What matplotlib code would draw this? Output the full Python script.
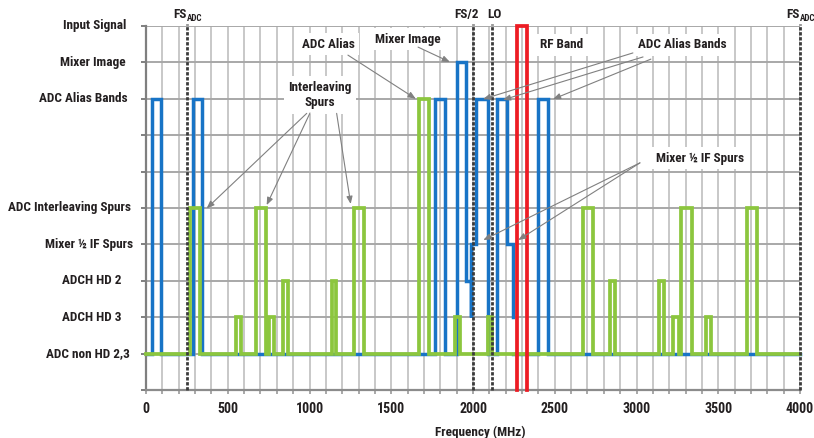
import matplotlib
matplotlib.use("Agg")
import matplotlib.pyplot as plt
import numpy as np
from matplotlib import font_manager
from matplotlib.font_manager import FontProperties
from matplotlib.transforms import blended_transform_factory

# ---------- pick a condensed bold font ----------
def find_font():
    files = [f.fname for f in font_manager.fontManager.ttflist]
    prefs = ['LiberationSansNarrow-Bold.', 'RobotoCondensed-Bold.', 'Roboto_Condensed-Bold',
             'OpenSans_Condensed-Bold', 'OpenSansCondensed-Bold', 'DejaVuSansCondensed-Bold.']
    for p in prefs:
        for f in files:
            if p.lower() in f.lower().replace(' ', ''):
                return f
    for f in files:
        fl = f.lower()
        if ('condensed' in fl or 'narrow' in fl) and 'bold' in fl and 'italic' not in fl \
                and 'oblique' not in fl and 'extrabold' not in fl and 'semibold' not in fl:
            return f
    return None

FONTFILE = find_font()

def fp(size):
    if FONTFILE:
        return FontProperties(fname=FONTFILE, size=size)
    return FontProperties(family='DejaVu Sans', weight='bold', size=size * 0.85)

# ---------------- data ----------------
level_labels = ["ADC non HD 2,3", "ADCH HD 3", "ADCH HD 2", "Mixer \u00bd IF Spurs",
                "ADC Interleaving Spurs", "", "", "ADC Alias Bands", "Mixer Image", "Input Signal"]
level_values = [1, 2, 3, 4, 5, 6, 7, 8, 9, 10]

# blue trace (ADC alias bands, mixer image, mixer 1/2 IF spurs) : (MHz, level)
blue_x = [0, 35, 35, 90, 90, 290, 290, 340, 340, 1770, 1770, 1830, 1830, 1900, 1900, 1960, 1960,
          1985, 1985, 1985, 2020, 2020, 2090, 2090, 2145, 2145, 2206, 2206, 2247, 2247,
          np.nan, 2247, 2400, 2400, 2460, 2460, 4000]
blue_y = [1, 1, 8, 8, 1, 1, 8, 8, 1, 1, 8, 8, 1, 1, 9, 9, 3,
          3, 2, 4, 4, 8, 8, 1, 1, 8, 8, 4, 4, 2,
          np.nan, 1, 1, 8, 8, 1, 1]

# green trace (spurs): (start MHz, end MHz, level)
green_start = [270, 550, 670, 750, 835, 1135, 1270, 1670, 1890, 2090, 2670, 2835, 3135, 3225, 3270, 3425, 3675]
green_end   = [332, 580, 732, 780, 868, 1165, 1332, 1732, 1920, 2115, 2735, 2868, 3168, 3258, 3337, 3455, 3740]
green_level = [5, 2, 5, 2, 3, 3, 5, 8, 2, 2, 5, 3, 3, 2, 5, 2, 5]

# red trace (RF band / input signal)
red_x = [2270, 2270, 2330, 2330]
red_y = [0, 10, 10, 0]

# reference lines
ref_x = [250, 2000, 2115, 4000]

BLUE = '#1874c6'
GREEN = '#8cc63e'
RED = '#ed1c24'
TXT = '#231f20'

W, H = 814, 438
fig = plt.figure(figsize=(W / 100, H / 100), dpi=100)
L, R, T, B = 146, 800, 26, 390
ax = fig.add_axes([L / W, 1 - B / H, (R - L) / W, (B - T) / H])
ax.set_xlim(0, 4000)
ax.set_ylim(0, 10)

# grid
for gx in range(0, 4001, 100):
    ax.axvline(gx, color='#c8c8c8', lw=1.4, zorder=0)
for gy in range(0, 11):
    ax.axhline(gy, color='#a8a8a8', lw=1.4, zorder=0.5)

# build green path
gx_pts, gy_pts = [0], [1]
for s, e, lv in zip(green_start, green_end, green_level):
    gx_pts += [s, s, e, e]
    gy_pts += [1, lv, lv, 1]
gx_pts.append(4000)
gy_pts.append(1)

ax.plot(blue_x, blue_y, color=BLUE, lw=2.5, solid_joinstyle='miter', zorder=2, clip_on=False)
ax.plot(gx_pts, gy_pts, color=GREEN, lw=2.7, solid_joinstyle='miter', zorder=3, clip_on=False)
for rx in ref_x:
    ax.plot([rx, rx], [0, 10.05], color='#3a3a3a', lw=2.0, ls=(0, (1.2, 0.6)), zorder=4, clip_on=False)
ax.plot(red_x, red_y, color=RED, lw=2.7, solid_joinstyle='miter', zorder=5, clip_on=False)

# spines / ticks
for s in ['top', 'right']:
    ax.spines[s].set_visible(False)
ax.spines['left'].set_color('#7f7f7f')
ax.spines['left'].set_linewidth(1.6)
ax.spines['bottom'].set_color('#8c8c8c')
ax.spines['bottom'].set_linewidth(1.6)
ax.set_yticks(range(0, 11))
ax.set_yticklabels([])
ax.tick_params(axis='y', length=3.5, width=1.4, color='#7f7f7f')
ax.set_xticks(range(0, 4001, 500))
ax.set_xticks(range(0, 4001, 100), minor=True)
ax.tick_params(axis='x', which='both', length=3, width=1.2, color='#9a9a9a', pad=5.5,
               labelcolor=TXT)
for lab in ax.get_xticklabels():
    lab.set_fontproperties(fp(10))

# y labels, individually placed (right edges in pixels)
tr = blended_transform_factory(fig.transFigure, ax.transData)
ylab_right = [130, 121, 121, 133, 131, None, None, 128, 126, 126]
for lab, lv, rpx in zip(level_labels, level_values, ylab_right):
    if lab:
        fig.text(rpx / W, lv, lab, transform=tr, ha='right', va='center',
                 fontproperties=fp(9.5), color=TXT)

fig.text(480 / W, 1 - 432 / H, "Frequency (MHz)", ha='center', va='center',
         fontproperties=fp(9.5), color=TXT)

# reference line labels
def fs_label(x):
    ax.annotate("FS", (x, 10), xytext=(0, 8), textcoords='offset points', ha='right', va='center',
                fontproperties=fp(9.5), color=TXT, annotation_clip=False)
    ax.annotate("ADC", (x, 10), xytext=(0, 5.5), textcoords='offset points', ha='left', va='center',
                fontproperties=fp(6.5), color=TXT, annotation_clip=False)
fs_label(ref_x[0])
fs_label(ref_x[3])
ax.annotate("FS/2", (1957, 10), xytext=(0, 8), textcoords='offset points', ha='center', va='center',
            fontproperties=fp(9.5), color=TXT, annotation_clip=False)
ax.annotate("LO", (2134, 10), xytext=(0, 8), textcoords='offset points', ha='center', va='center',
            fontproperties=fp(9.5), color=TXT, annotation_clip=False)

# annotation boxes
box = dict(boxstyle='square,pad=0.35', fc='white', ec='none')
tkw = dict(ha='center', va='center', color=TXT, zorder=6, bbox=box)
akw = dict(arrowstyle='-|>,head_length=0.45,head_width=0.18', color='#808080', lw=0.8,
           shrinkA=0, shrinkB=0)

ax.text(1113, 9.5, "ADC Alias", fontproperties=fp(9.5), **tkw)
ax.annotate("", xy=(1650, 8.0), xytext=(1235, 9.2), arrowprops=akw, zorder=7)

ax.text(1602, 9.64, "Mixer Image", fontproperties=fp(9.5), **tkw)
ax.annotate("", xy=(1859, 9.01), xytext=(1664, 9.42), arrowprops=akw, zorder=7)

ax.text(2544, 9.48, "RF Band", fontproperties=fp(9.5), **tkw)

ax.text(3278, 9.48, "ADC Alias Bands", fontproperties=fp(9.5), **tkw)
for (sx, sy), (ex, ey) in zip([(2978, 9.26), (3040, 9.15), (3088, 9.09)],
                              [(2061, 7.99), (2183, 7.97), (2489, 7.99)]):
    ax.annotate("", xy=(ex, ey), xytext=(sx, sy), arrowprops=akw, zorder=7)

ax.text(1064, 8.1, "Interleaving\nSpurs", linespacing=1.25, fontproperties=fp(9.5), **tkw)
for (sx, sy), (ex, ey) in zip([(983, 7.6), (1003, 7.61), (1166, 7.6)],
                              [(371, 4.99), (738, 5.08), (1252, 5.11)]):
    ax.annotate("", xy=(ex, ey), xytext=(sx, sy), arrowprops=akw, zorder=7)

ax.text(3388, 6.37, "Mixer \u00bd IF Spurs", fontproperties=fp(9.5), **tkw)
for (ex, ey) in [(2063, 4.12), (2277, 4.12)]:
    ax.annotate("", xy=(ex, ey), xytext=(3021, 6.24), arrowprops=akw, zorder=7)

fig.savefig("out.png", dpi=100)
